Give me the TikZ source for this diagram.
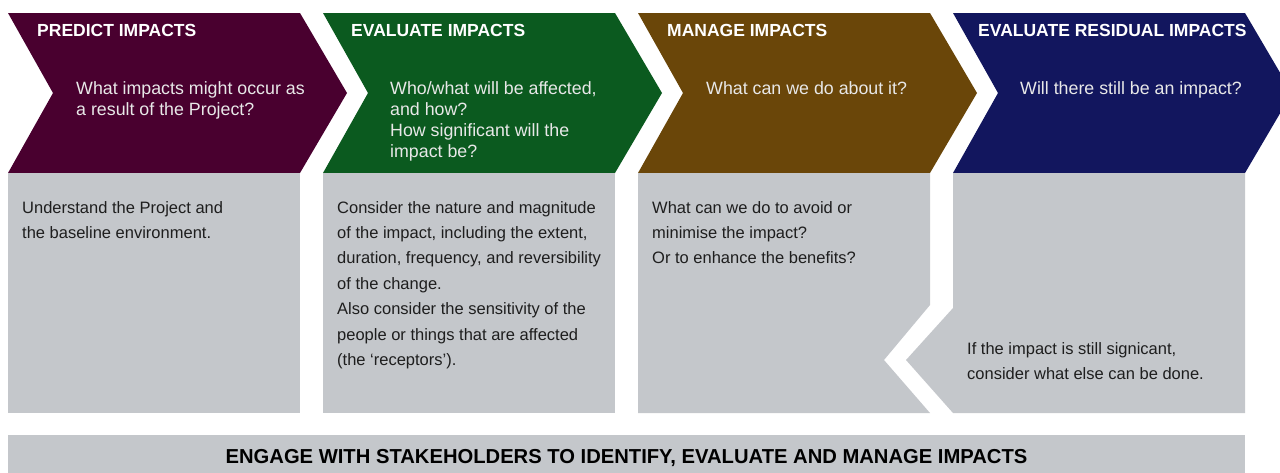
\documentclass[tikz,border=0pt]{standalone}
\usepackage{fontspec}
\setmainfont{Liberation Sans}
\definecolor{cpurple}{HTML}{49002F}
\definecolor{cgreen}{HTML}{0B5A1F}
\definecolor{cbrown}{HTML}{6A4609}
\definecolor{cnavy}{HTML}{12165E}
\definecolor{cgray}{HTML}{C4C7CB}
\definecolor{ctext}{HTML}{1E1E1E}
\definecolor{cq}{HTML}{E8E8E8}
\tikzset{
  hdr/.style={anchor=base west, inner sep=0pt, text=white, font=\fontsize{17.5}{20}\selectfont\bfseries},
  qtext/.style={anchor=base west, inner sep=0pt, text=cq, font=\fontsize{17.8}{21}\selectfont},
  body/.style={anchor=base west, inner sep=0pt, text=ctext, font=\fontsize{16.5}{25}\selectfont},
  bandtext/.style={anchor=base, inner sep=0pt, text=black, font=\fontsize{20.2}{24}\selectfont\bfseries},
  panel/.style={fill=cgray, draw=none}
}
\begin{document}
\begin{tikzpicture}[x=1pt, y=-1pt]
\useasboundingbox (0,0) rectangle (1280,472);
\clip (0,0) rectangle (1280,472);
% chevrons
\foreach \c [count=\i from 0] in {cpurple,cgreen,cbrown,cnavy}{
  \pgfmathsetmacro{\xo}{8+315*\i}
  \fill[\c] (\xo,13) -- ({\xo+292},13) -- ({\xo+339},93) -- ({\xo+292},173)
     -- (\xo,173) -- ({\xo+45},93) -- cycle;
}
% gray panels
\fill[panel] (8,173) rectangle (300,413);
\fill[panel] (323,173) rectangle (615,413);
\fill[panel] (638,173) -- (930,173) -- (930,305) -- (884,360) -- (930,413) -- (638,413) -- cycle;
\fill[panel] (953,173) -- (1245,173) -- (1245,413) -- (953,413) -- (906,360) -- (953,308) -- cycle;
\fill[panel] (8,435) rectangle (1245,473);
% headers
\node[hdr] (h1) at (37,36) {PREDICT IMPACTS};
\node[hdr] (h2) at (351,36) {EVALUATE IMPACTS};
\node[hdr] (h3) at (667,36) {MANAGE IMPACTS};
\node[hdr] (h4) at (978,36) {EVALUATE RESIDUAL IMPACTS};
% questions
\foreach \t [count=\i from 0] in {{What impacts might occur as},{a result of the Project?}}
  \node[qtext] (q1-\i) at (76,{94+21.3*\i}) {\t};
\foreach \t [count=\i from 0] in {{Who/what will be affected,},{and how?},{How significant will the},{impact be?}}
  \node[qtext] (q2-\i) at (390,{94+21.3*\i}) {\t};
\node[qtext] (q3-0) at (706,94) {What can we do about it?};
\node[qtext] (q4-0) at (1020,94) {Will there still be an impact?};
% body texts
\foreach \t [count=\i from 0] in {{Understand the Project and},{the baseline environment.}}
  \node[body] (b1-\i) at (22,{213+25.4*\i}) {\t};
\foreach \t [count=\i from 0] in {{Consider the nature and magnitude},{of the impact, including the extent,},{duration, frequency, and reversibility},{of the change.},{Also consider the sensitivity of the},{people or things that are affected},{(the ‘receptors’).}}
  \node[body] (b2-\i) at (337,{213+25.4*\i}) {\t};
\foreach \t [count=\i from 0] in {{What can we do to avoid or},{minimise the impact?},{Or to enhance the benefits?}}
  \node[body] (b3-\i) at (652,{213+25.4*\i}) {\t};
\foreach \t [count=\i from 0] in {{If the impact is still signicant,},{consider what else can be done.}}
  \node[body] (b4-\i) at (967,{354+25.5*\i}) {\t};
% band
\node[bandtext] (band) at (626.5,463) {ENGAGE WITH STAKEHOLDERS TO IDENTIFY, EVALUATE AND MANAGE IMPACTS};
\end{tikzpicture}
\end{document}
